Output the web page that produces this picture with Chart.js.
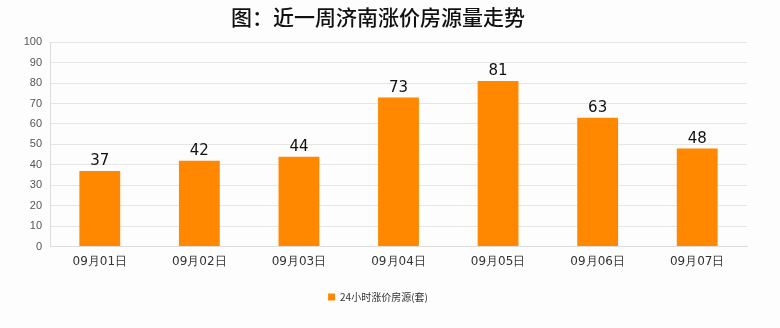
<!DOCTYPE html>
<html>
<head>
<meta charset="utf-8">
<script src="https://cdn.jsdelivr.net/npm/chart.js@4"></script>
<style>
  html, body { margin: 0; padding: 0; background: #fdfdfd; }
  #wrap { width: 780px; height: 328px; }
</style>
</head>
<body>
<div id="wrap"><canvas id="chart" width="780" height="328"></canvas></div>
<script>
const days = ["09月01日", "09月02日", "09月03日", "09月04日", "09月05日", "09月06日", "09月07日"];
const risingCount = [37, 42, 44, 73, 81, 63, 48];
const seriesName = "24小时涨价房源(套)";
const chartTitle = "图：近一周济南涨价房源量走势";

const barLabels = {
  id: "barLabels",
  afterDatasetsDraw(chart) {
    const ctx = chart.ctx;
    const meta = chart.getDatasetMeta(0);
    ctx.save();
    ctx.font = "15px 'DejaVu Sans', sans-serif";
    ctx.fillStyle = "#111";
    ctx.textAlign = "center";
    ctx.textBaseline = "bottom";
    meta.data.forEach((bar, i) => {
      ctx.fillText(risingCount[i], bar.x, bar.y - 2);
    });
    ctx.restore();
  }
};

const ctx = document.getElementById("chart").getContext("2d");
new Chart(ctx, {
  type: "bar",
  data: {
    labels: days,
    datasets: [{
      label: seriesName,
      data: risingCount,
      backgroundColor: "#ff8800",
      borderWidth: 0,
      categoryPercentage: 1,
      barPercentage: 0.41
    }]
  },
  options: {
    responsive: false,
    animation: false,
    layout: { padding: { left: 9, right: 33, top: 4, bottom: 16 } },
    scales: {
      x: {
        grid: { display: false, drawTicks: false },
        border: { color: "#dcdcdc" },
        ticks: { color: "#333", font: { size: 12, family: "'DejaVu Sans', sans-serif" }, padding: 8 }
      },
      y: {
        min: 0,
        max: 100,
        ticks: { stepSize: 10, color: "#555", font: { size: 11, family: "'Liberation Sans', sans-serif" }, padding: 8 },
        grid: { color: "#e6e6e6", drawTicks: false },
        border: { color: "#dcdcdc" },
        afterFit(scale) { scale.width = 41; }
      }
    },
    plugins: {
      title: {
        display: true,
        text: chartTitle,
        color: "#111",
        font: { size: 21, weight: "500", family: "'Noto Sans CJK SC', sans-serif" },
        padding: { top: 0, bottom: 13 }
      },
      legend: {
        position: "bottom",
        labels: {
          boxWidth: 7,
          boxHeight: 7,
          color: "#333",
          font: { size: 10, family: "'Noto Sans CJK SC', sans-serif" },
          padding: 15
        }
      },
      tooltip: { enabled: false }
    }
  },
  plugins: [barLabels]
});
</script>
</body>
</html>
